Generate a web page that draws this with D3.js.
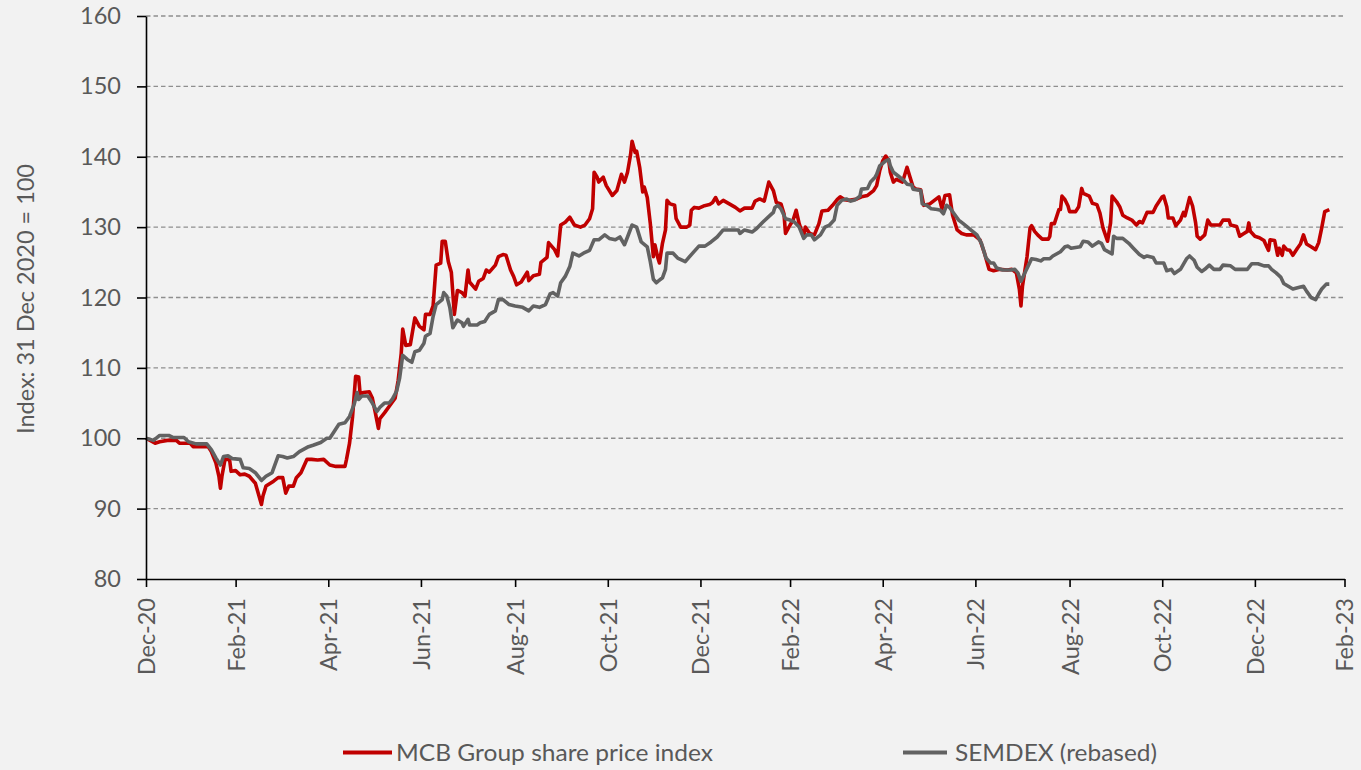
<!DOCTYPE html>
<html>
<head>
<meta charset="utf-8">
<script src="https://cdn.jsdelivr.net/npm/d3@7"></script>
<style>
  html, body { margin: 0; padding: 0; background: #f2f2f2; }
  svg { display: block; font-family: Lato, "Open Sans", sans-serif; }
  .tick text { fill: #595959; font-size: 23.5px; }
</style>
</head>
<body>
<svg id="chart" width="1361" height="770"></svg>
<script>
// tick labels
const xTickDates = ["2020-12-31", "2021-02-28", "2021-04-30", "2021-06-30", "2021-08-31", "2021-10-31",
  "2021-12-31", "2022-02-28", "2022-04-30", "2022-06-30", "2022-08-31", "2022-10-31", "2022-12-31", "2023-02-28"];
const yTicks = [80, 90, 100, 110, 120, 130, 140, 150, 160];

const seriesNames = ["MCB Group share price index", "SEMDEX (rebased)"];
const yTitle = "Index: 31 Dec 2020 = 100";

// MCB Group share price index
const mcbIndex = [
  ["2020-12-31",100.0],["2021-01-06",99.3],["2021-01-09",99.5],["2021-01-14",99.7],["2021-01-20",99.7],
  ["2021-01-22",99.3],["2021-01-29",99.3],["2021-01-31",98.8],["2021-02-10",98.8],["2021-02-12",98.1],
  ["2021-02-15",96.5],["2021-02-17",94.6],["2021-02-18",92.9],["2021-02-19",94.6],["2021-02-21",97.0],
  ["2021-02-24",97.0],["2021-02-25",95.3],["2021-02-28",95.4],["2021-03-03",94.8],["2021-03-06",94.9],
  ["2021-03-09",94.6],["2021-03-13",93.6],["2021-03-17",90.6],["2021-03-18",91.8],["2021-03-20",93.2],
  ["2021-03-25",93.9],["2021-03-28",94.4],["2021-03-31",94.4],["2021-04-02",92.2],["2021-04-04",93.2],
  ["2021-04-07",93.2],["2021-04-09",94.4],["2021-04-12",95.1],["2021-04-16",97.0],["2021-04-19",97.0],
  ["2021-04-23",96.9],["2021-04-27",97.0],["2021-05-01",96.2],["2021-05-05",96.0],["2021-05-11",96.0],
  ["2021-05-12",97.0],["2021-05-14",99.3],["2021-05-16",103.1],["2021-05-18",108.8],["2021-05-20",108.7],
  ["2021-05-21",106.2],["2021-05-23",106.5],["2021-05-27",106.6],["2021-05-29",105.7],["2021-05-31",103.6],
  ["2021-06-02",101.4],["2021-06-03",102.8],["2021-06-06",103.6],["2021-06-10",104.8],["2021-06-13",105.7],
  ["2021-06-15",108.2],["2021-06-17",112.0],["2021-06-18",115.5],["2021-06-20",113.2],["2021-06-23",113.3],
  ["2021-06-26",117.1],["2021-06-29",115.9],["2021-07-02",115.4],["2021-07-03",117.6],["2021-07-06",117.6],
  ["2021-07-08",118.8],["2021-07-10",124.6],["2021-07-13",124.9],["2021-07-14",128.0],["2021-07-16",128.0],
  ["2021-07-18",125.1],["2021-07-20",123.6],["2021-07-22",117.6],["2021-07-24",121.0],["2021-07-27",120.7],
  ["2021-07-29",120.2],["2021-07-31",123.9],["2021-08-01",122.2],["2021-08-05",121.2],["2021-08-07",122.3],
  ["2021-08-10",122.7],["2021-08-12",123.9],["2021-08-14",123.6],["2021-08-18",124.6],["2021-08-20",125.8],
  ["2021-08-23",126.1],["2021-08-25",126.0],["2021-08-28",123.9],["2021-08-30",123.0],["2021-09-01",121.8],
  ["2021-09-04",122.2],["2021-09-08",123.6],["2021-09-09",122.4],["2021-09-12",123.1],["2021-09-16",123.3],
  ["2021-09-17",125.0],["2021-09-21",125.7],["2021-09-22",127.8],["2021-09-26",126.8],["2021-09-28",125.9],
  ["2021-09-30",130.3],["2021-10-03",130.7],["2021-10-06",131.4],["2021-10-09",130.3],["2021-10-13",130.0],
  ["2021-10-16",130.3],["2021-10-19",131.2],["2021-10-21",132.6],["2021-10-22",137.8],["2021-10-24",137.1],
  ["2021-10-25",136.4],["2021-10-28",137.1],["2021-10-30",135.9],["2021-11-03",134.5],["2021-11-06",135.2],
  ["2021-11-09",137.5],["2021-11-11",136.4],["2021-11-13",137.8],["2021-11-15",140.3],["2021-11-16",142.2],
  ["2021-11-18",140.6],["2021-11-19",140.8],["2021-11-21",138.5],["2021-11-23",135.0],["2021-11-24",135.7],
  ["2021-11-26",134.2],["2021-11-28",130.5],["2021-11-30",125.8],["2021-12-01",127.5],["2021-12-03",125.6],
  ["2021-12-04",124.9],["2021-12-06",127.7],["2021-12-08",129.6],["2021-12-09",133.8],["2021-12-11",133.3],
  ["2021-12-14",133.1],["2021-12-15",131.2],["2021-12-18",130.0],["2021-12-22",130.0],["2021-12-24",130.3],
  ["2021-12-25",132.4],["2021-12-27",132.8],["2021-12-30",132.7],["2022-01-02",133.0],["2022-01-06",133.2],
  ["2022-01-08",133.5],["2022-01-10",134.2],["2022-01-12",133.3],["2022-01-15",133.8],["2022-01-19",133.3],
  ["2022-01-23",132.8],["2022-01-26",132.3],["2022-01-29",132.7],["2022-02-03",132.7],["2022-02-05",133.7],
  ["2022-02-08",134.0],["2022-02-11",133.7],["2022-02-14",136.4],["2022-02-17",135.2],["2022-02-19",133.5],
  ["2022-02-22",133.3],["2022-02-24",131.9],["2022-02-25",129.1],["2022-02-28",130.3],["2022-03-02",131.0],
  ["2022-03-04",132.4],["2022-03-06",130.5],["2022-03-09",128.6],["2022-03-10",130.0],["2022-03-13",129.1],
  ["2022-03-16",128.9],["2022-03-19",130.5],["2022-03-21",132.3],["2022-03-25",132.4],["2022-03-28",133.1],
  ["2022-03-31",133.9],["2022-04-02",134.3],["2022-04-05",133.9],["2022-04-08",133.8],["2022-04-13",134.0],
  ["2022-04-16",134.3],["2022-04-20",134.5],["2022-04-24",135.2],["2022-04-26",135.9],["2022-04-28",138.0],
  ["2022-04-30",139.4],["2022-05-02",140.1],["2022-05-04",139.4],["2022-05-05",137.8],["2022-05-07",136.4],
  ["2022-05-09",136.8],["2022-05-13",136.4],["2022-05-14",137.1],["2022-05-16",138.5],["2022-05-18",137.1],
  ["2022-05-20",135.7],["2022-05-22",135.4],["2022-05-25",135.3],["2022-05-27",133.1],["2022-05-31",133.3],
  ["2022-06-03",133.8],["2022-06-06",134.3],["2022-06-08",132.6],["2022-06-10",134.5],["2022-06-13",134.6],
  ["2022-06-15",131.7],["2022-06-18",129.6],["2022-06-21",129.1],["2022-06-24",128.9],["2022-06-29",128.9],
  ["2022-07-03",128.2],["2022-07-06",126.3],["2022-07-09",124.0],["2022-07-12",123.8],["2022-07-16",124.0],
  ["2022-07-21",123.9],["2022-07-24",124.0],["2022-07-27",123.5],["2022-07-29",121.1],["2022-07-30",118.8],
  ["2022-07-31",121.6],["2022-08-03",125.8],["2022-08-05",129.9],["2022-08-06",130.2],["2022-08-08",129.4],
  ["2022-08-10",128.9],["2022-08-13",128.3],["2022-08-17",128.3],["2022-08-18",128.7],["2022-08-19",130.5],
  ["2022-08-21",130.5],["2022-08-24",132.5],["2022-08-25",132.5],["2022-08-26",134.4],["2022-08-28",133.9],
  ["2022-08-30",133.0],["2022-08-31",132.2],["2022-09-04",132.2],["2022-09-06",132.9],["2022-09-08",135.5],
  ["2022-09-09",134.8],["2022-09-13",134.4],["2022-09-15",133.4],["2022-09-18",133.2],["2022-09-20",132.0],
  ["2022-09-22",129.9],["2022-09-25",128.0],["2022-09-27",130.6],["2022-09-28",134.4],["2022-10-01",133.6],
  ["2022-10-03",132.9],["2022-10-05",131.7],["2022-10-08",131.3],["2022-10-11",131.0],["2022-10-14",130.3],
  ["2022-10-16",130.8],["2022-10-18",130.6],["2022-10-21",132.1],["2022-10-25",132.1],["2022-10-27",133.0],
  ["2022-10-31",134.3],["2022-11-01",134.4],["2022-11-03",132.9],["2022-11-04",131.3],["2022-11-07",131.3],
  ["2022-11-09",130.2],["2022-11-12",131.0],["2022-11-14",132.1],["2022-11-15",131.6],["2022-11-18",134.2],
  ["2022-11-20",133.0],["2022-11-22",130.6],["2022-11-23",128.7],["2022-11-25",128.3],["2022-11-28",128.9],
  ["2022-11-30",131.0],["2022-12-02",130.3],["2022-12-08",130.3],["2022-12-10",131.0],["2022-12-14",131.0],
  ["2022-12-15",130.3],["2022-12-19",130.1],["2022-12-21",128.7],["2022-12-23",129.0],["2022-12-26",129.4],
  ["2022-12-27",130.6],["2022-12-28",129.4],["2022-12-31",128.7],["2023-01-03",128.5],["2023-01-06",128.1],
  ["2023-01-07",127.6],["2023-01-09",126.7],["2023-01-10",128.2],["2023-01-13",128.1],["2023-01-15",126.0],
  ["2023-01-16",127.0],["2023-01-18",126.0],["2023-01-19",127.3],["2023-01-21",126.8],["2023-01-23",126.7],
  ["2023-01-25",126.0],["2023-01-28",127.0],["2023-01-30",127.6],["2023-02-01",128.9],["2023-02-03",127.6],
  ["2023-02-06",127.2],["2023-02-09",126.8],["2023-02-11",127.8],["2023-02-13",129.9],["2023-02-15",132.2],
  ["2023-02-18",132.5]
];

// SEMDEX rebased to 100
const semdexIndex = [
  ["2020-12-31",100.0],["2021-01-05",99.7],["2021-01-09",100.4],["2021-01-15",100.4],["2021-01-18",100.1],
  ["2021-01-25",100.1],["2021-01-28",99.5],["2021-02-02",99.2],["2021-02-09",99.2],["2021-02-12",98.4],
  ["2021-02-15",97.2],["2021-02-18",96.2],["2021-02-20",97.4],["2021-02-23",97.5],["2021-02-26",97.1],
  ["2021-03-03",97.0],["2021-03-05",95.8],["2021-03-09",95.7],["2021-03-13",95.1],["2021-03-17",94.0],
  ["2021-03-20",94.6],["2021-03-24",95.1],["2021-03-28",97.5],["2021-03-31",97.4],["2021-04-03",97.2],
  ["2021-04-07",97.4],["2021-04-11",98.1],["2021-04-17",98.8],["2021-04-20",99.0],["2021-04-25",99.4],
  ["2021-04-29",100.0],["2021-05-01",100.0],["2021-05-04",101.0],["2021-05-07",102.0],["2021-05-11",102.2],
  ["2021-05-14",103.1],["2021-05-17",104.8],["2021-05-19",106.5],["2021-05-20",105.5],["2021-05-22",106.0],
  ["2021-05-26",106.0],["2021-05-29",105.0],["2021-06-01",103.8],["2021-06-03",104.4],["2021-06-06",105.0],
  ["2021-06-09",105.0],["2021-06-11",105.5],["2021-06-14",106.7],["2021-06-16",108.6],["2021-06-18",111.8],
  ["2021-06-21",111.2],["2021-06-24",110.8],["2021-06-26",112.3],["2021-06-29",112.5],["2021-07-02",113.5],
  ["2021-07-03",114.5],["2021-07-06",114.9],["2021-07-08",117.3],["2021-07-10",119.0],["2021-07-14",119.7],
  ["2021-07-15",120.7],["2021-07-17",120.2],["2021-07-19",118.6],["2021-07-21",115.7],["2021-07-24",116.8],
  ["2021-07-27",116.4],["2021-07-28",115.9],["2021-07-31",116.9],["2021-08-01",116.1],["2021-08-06",116.1],
  ["2021-08-08",116.4],["2021-08-11",116.6],["2021-08-14",117.6],["2021-08-18",118.1],["2021-08-20",119.7],
  ["2021-08-23",119.7],["2021-08-27",119.0],["2021-08-31",118.8],["2021-09-05",118.6],["2021-09-09",118.1],
  ["2021-09-12",118.8],["2021-09-16",118.6],["2021-09-20",119.0],["2021-09-23",120.5],["2021-09-25",120.7],
  ["2021-09-28",120.2],["2021-09-30",122.1],["2021-10-03",123.0],["2021-10-06",124.4],["2021-10-08",126.3],
  ["2021-10-12",125.9],["2021-10-15",126.3],["2021-10-19",126.7],["2021-10-22",128.2],["2021-10-25",128.2],
  ["2021-10-29",128.9],["2021-11-01",128.4],["2021-11-05",128.2],["2021-11-08",128.6],["2021-11-11",127.5],
  ["2021-11-13",128.6],["2021-11-16",130.3],["2021-11-19",130.0],["2021-11-22",127.9],["2021-11-26",127.2],
  ["2021-11-28",125.1],["2021-11-30",122.6],["2021-12-02",122.1],["2021-12-03",122.3],["2021-12-06",122.8],
  ["2021-12-08",124.0],["2021-12-09",126.3],["2021-12-13",126.3],["2021-12-16",125.6],["2021-12-21",125.1],
  ["2021-12-25",126.1],["2021-12-30",127.3],["2022-01-03",127.3],["2022-01-07",127.9],["2022-01-11",128.6],
  ["2022-01-15",129.6],["2022-01-19",129.6],["2022-01-25",129.6],["2022-01-26",129.1],["2022-01-29",129.6],
  ["2022-02-03",129.3],["2022-02-06",129.8],["2022-02-10",130.7],["2022-02-15",131.7],["2022-02-17",132.1],
  ["2022-02-18",132.8],["2022-02-20",133.1],["2022-02-22",132.6],["2022-02-25",131.2],["2022-02-28",131.0],
  ["2022-03-03",130.7],["2022-03-06",130.0],["2022-03-09",128.4],["2022-03-11",128.9],["2022-03-14",128.9],
  ["2022-03-16",128.2],["2022-03-20",128.9],["2022-03-23",130.0],["2022-03-26",130.3],["2022-03-29",131.0],
  ["2022-03-31",133.1],["2022-04-03",133.8],["2022-04-06",134.0],["2022-04-09",133.7],["2022-04-12",133.9],
  ["2022-04-15",134.4],["2022-04-16",135.4],["2022-04-20",135.5],["2022-04-22",136.4],["2022-04-25",137.1],
  ["2022-04-26",137.5],["2022-04-28",138.7],["2022-05-02",139.4],["2022-05-04",139.6],["2022-05-05",138.7],
  ["2022-05-07",137.8],["2022-05-10",137.3],["2022-05-14",136.6],["2022-05-16",136.1],["2022-05-19",136.0],
  ["2022-05-20",135.4],["2022-05-25",135.2],["2022-05-26",133.3],["2022-05-29",133.1],["2022-06-01",132.6],
  ["2022-06-05",132.5],["2022-06-07",132.4],["2022-06-09",131.9],["2022-06-11",133.1],["2022-06-13",132.8],
  ["2022-06-16",131.9],["2022-06-19",131.0],["2022-06-22",130.5],["2022-06-26",129.8],["2022-07-01",128.9],
  ["2022-07-04",127.7],["2022-07-07",125.6],["2022-07-10",124.9],["2022-07-12",124.9],["2022-07-14",124.2],
  ["2022-07-18",123.9],["2022-07-23",123.9],["2022-07-26",124.0],["2022-07-28",123.5],["2022-07-30",122.3],
  ["2022-08-02",123.7],["2022-08-04",124.6],["2022-08-06",125.5],["2022-08-09",125.4],["2022-08-12",125.2],
  ["2022-08-14",125.5],["2022-08-18",125.5],["2022-08-20",125.9],["2022-08-25",126.5],["2022-08-28",127.2],
  ["2022-08-30",127.3],["2022-09-01",127.0],["2022-09-07",127.2],["2022-09-09",128.0],["2022-09-12",127.9],
  ["2022-09-15",127.3],["2022-09-19",127.9],["2022-09-21",127.7],["2022-09-23",126.8],["2022-09-28",126.2],
  ["2022-09-29",128.7],["2022-10-01",128.4],["2022-10-05",128.4],["2022-10-09",127.7],["2022-10-12",127.0],
  ["2022-10-16",126.1],["2022-10-19",125.7],["2022-10-21",125.9],["2022-10-25",125.7],["2022-10-27",124.9],
  ["2022-11-01",124.9],["2022-11-03",123.8],["2022-11-06",124.0],["2022-11-08",123.4],["2022-11-12",124.0],
  ["2022-11-16",125.5],["2022-11-18",125.9],["2022-11-21",125.3],["2022-11-23",124.3],["2022-11-26",123.7],
  ["2022-11-28",124.0],["2022-12-01",124.6],["2022-12-04",124.0],["2022-12-08",124.0],["2022-12-10",124.6],
  ["2022-12-15",124.5],["2022-12-18",124.0],["2022-12-22",124.0],["2022-12-26",124.0],["2022-12-29",124.8],
  ["2023-01-02",124.8],["2023-01-06",124.5],["2023-01-09",124.5],["2023-01-11",124.0],["2023-01-14",123.5],
  ["2023-01-17",122.9],["2023-01-19",122.0],["2023-01-22",121.6],["2023-01-25",121.2],["2023-01-30",121.5],
  ["2023-02-01",121.6],["2023-02-03",120.9],["2023-02-06",120.0],["2023-02-09",119.7],["2023-02-11",120.5],
  ["2023-02-13",121.2],["2023-02-16",121.9],["2023-02-18",121.9]
];

const colors = { mcb: "#c00000", semdex: "#626262" };

const parse = d3.timeParse("%Y-%m-%d");
const svg = d3.select("#chart");
const plot = { left: 146, right: 1344.5, top: 16, bottom: 579 };

// scales
const x = d3.scaleTime()
  .domain([parse(xTickDates[0]), parse(xTickDates[xTickDates.length - 1])])
  .range([plot.left, plot.right]);
const y = d3.scaleLinear()
  .domain([yTicks[0], yTicks[yTicks.length - 1]])
  .range([plot.bottom, plot.top]);

// dashed gridlines
svg.append("g")
  .selectAll("line")
  .data(yTicks.slice(1))
  .join("line")
  .attr("x1", plot.left)
  .attr("x2", plot.right)
  .attr("y1", d => y(d))
  .attr("y2", d => y(d))
  .attr("stroke", "#8f8f8f")
  .attr("stroke-width", 1.4)
  .attr("stroke-dasharray", "4.5,3");

// lines
const line = d3.line()
  .x(d => x(parse(d[0])))
  .y(d => y(d[1]));

svg.append("path")
  .datum(mcbIndex)
  .attr("fill", "none")
  .attr("stroke", colors.mcb)
  .attr("stroke-width", 3.6)
  .attr("stroke-linejoin", "round")
  .attr("d", line);

svg.append("path")
  .datum(semdexIndex)
  .attr("fill", "none")
  .attr("stroke", colors.semdex)
  .attr("stroke-width", 3.6)
  .attr("stroke-linejoin", "round")
  .attr("d", line);

// axes
const yAxis = d3.axisLeft(y)
  .tickValues(yTicks)
  .tickSize(9)
  .tickSizeOuter(0)
  .tickPadding(16);
const gy = svg.append("g")
  .attr("transform", `translate(${plot.left},0)`)
  .call(yAxis);

const xAxis = d3.axisBottom(x)
  .tickValues(xTickDates.map(parse))
  .tickSize(8)
  .tickSizeOuter(0)
  .tickFormat(d3.timeFormat("%b-%y"));
const gx = svg.append("g")
  .attr("transform", `translate(0,${plot.bottom})`)
  .call(xAxis);
gx.selectAll(".tick text")
  .attr("transform", "rotate(-90)")
  .attr("text-anchor", "end")
  .attr("x", -19)
  .attr("y", 0)
  .attr("dy", "0.36em");

[gx, gy].forEach(g => {
  g.attr("font-family", null).attr("font-size", null);
  g.selectAll("line, path").attr("stroke", "#000").attr("stroke-width", 1.6);
});

// y title
svg.append("text")
  .attr("transform", "translate(25,299) rotate(-90)")
  .attr("text-anchor", "middle")
  .attr("dominant-baseline", "central")
  .attr("fill", "#595959")
  .attr("font-size", 23.5)
  .attr("textLength", 270)
  .attr("lengthAdjust", "spacingAndGlyphs")
  .text(yTitle);

// legend
const legend = [
  { name: seriesNames[0], color: colors.mcb, x1: 343, x2: 392, tx: 396, len: 317 },
  { name: seriesNames[1], color: colors.semdex, x1: 903, x2: 947, tx: 955, len: 202 }
];
const lg = svg.append("g").selectAll("g").data(legend).join("g");
lg.append("line")
  .attr("x1", d => d.x1)
  .attr("x2", d => d.x2)
  .attr("y1", 752.5)
  .attr("y2", 752.5)
  .attr("stroke", d => d.color)
  .attr("stroke-width", 4);
lg.append("text")
  .attr("x", d => d.tx)
  .attr("y", 761)
  .attr("fill", "#595959")
  .attr("font-size", 23.5)
  .attr("textLength", d => d.len)
  .attr("lengthAdjust", "spacingAndGlyphs")
  .text(d => d.name);
</script>
</body>
</html>
